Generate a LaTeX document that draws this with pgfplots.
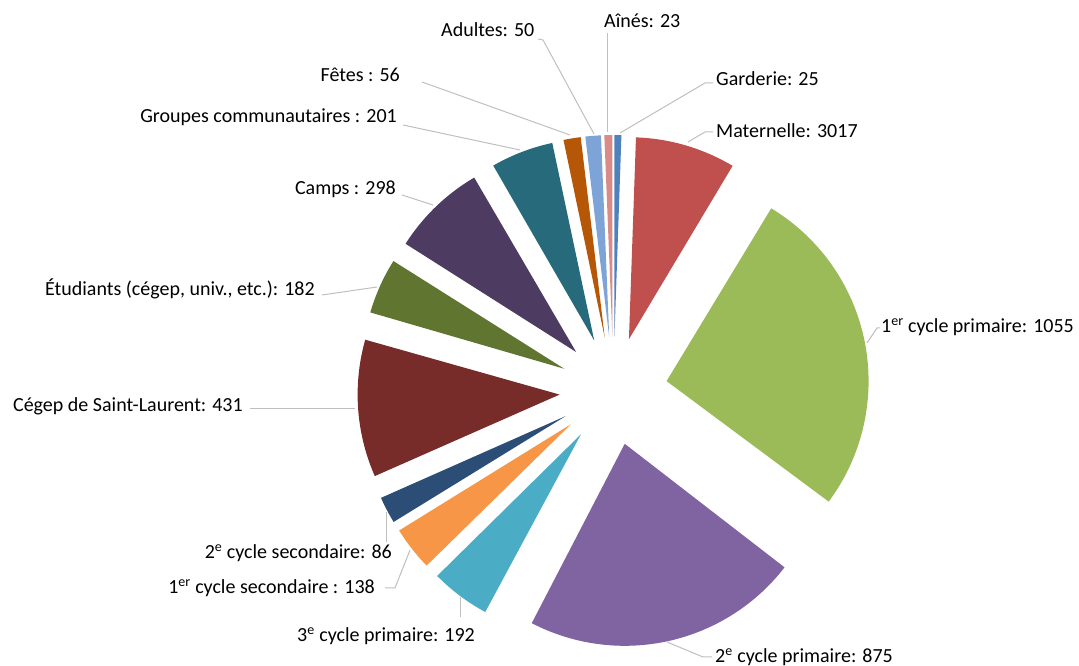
\documentclass[border=0pt]{standalone}
\usepackage{pgfplots}
\pgfplotsset{compat=1.18}
\usepackage{fontspec}
\setmainfont{Carlito}
\definecolor{cGard}{HTML}{4F81BD}
\definecolor{cMat}{HTML}{C0504D}
\definecolor{cPrimA}{HTML}{9BBB59}
\definecolor{cPrimB}{HTML}{8064A2}
\definecolor{cPrimC}{HTML}{4BACC6}
\definecolor{cSecA}{HTML}{F79646}
\definecolor{cSecB}{HTML}{2C4D75}
\definecolor{cCeg}{HTML}{772C2A}
\definecolor{cEtu}{HTML}{5F7530}
\definecolor{cCamps}{HTML}{4D3B62}
\definecolor{cGrp}{HTML}{276A7C}
\definecolor{cFete}{HTML}{B65708}
\definecolor{cAdu}{HTML}{7EA3D6}
\definecolor{cAin}{HTML}{D98B88}
\definecolor{cLead}{HTML}{BFBFBF}
% slice: start angle, end angle (degrees, counter-clockwise), colour
% pie centre (613.5,275), radius 202, explosion 54 (picture units)
\newcommand{\slice}[3]{%
  \addplot[fill=#3, draw=none, domain=#1-0.01:#2, samples=90, variable=\t]
   ({613.5 + 54*cos((#1+#2)/2) + 202*(\t>(#1-0.005))*cos(\t)},
    {275 + 54*sin((#1+#2)/2) + 202*(\t>(#1-0.005))*sin(\t)});
}
\begin{document}
\begin{tikzpicture}
\begin{axis}[width=1079pt, height=666pt, scale only axis,
  xmin=0, xmax=1079, ymin=0, ymax=666, hide axis, clip=false]
\slice{88}{90}{cGard}        % Garderie: 25
\slice{58.8}{88}{cMat}       % Maternelle: 3017
\slice{-37.7}{58.8}{cPrimA}  % 1er cycle primaire: 1055
\slice{-118.3}{-37.7}{cPrimB}% 2e cycle primaire: 875
\slice{-135.6}{-118.3}{cPrimC}% 3e cycle primaire: 192
\slice{-148.4}{-135.6}{cSecA}% 1er cycle secondaire: 138
\slice{-156.2}{-148.4}{cSecB}% 2e cycle secondaire: 86
\slice{163.8}{203.8}{cCeg}   % Cegep: 431
\slice{147.6}{163.8}{cEtu}   % Etudiants: 182
\slice{120}{147.6}{cCamps}   % Camps: 298
\slice{101.8}{120}{cGrp}     % Groupes: 201
\slice{96.8}{101.8}{cFete}   % Fetes: 56
\slice{92.3}{96.8}{cAdu}     % Adultes: 50
\slice{90}{92.3}{cAin}       % Aines: 23
% leader lines
\begin{scope}[cLead, line width=1pt]
\draw (axis cs:607,633) -- (axis cs:607,534);
\draw (axis cs:620,533) -- (axis cs:705,583) -- (axis cs:713,583);
\draw (axis cs:688,524) -- (axis cs:705,534) -- (axis cs:713,534);
\draw (axis cs:867,323) -- (axis cs:877,338) -- (axis cs:880,338);
\draw (axis cs:667,24) -- (axis cs:703,9) -- (axis cs:712,9);
\draw (axis cs:460,69) -- (axis cs:460,49);
\draw (axis cs:410,116) -- (axis cs:395,78) -- (axis cs:385,78);
\draw (axis cs:386,154) -- (axis cs:386,124);
\draw (axis cs:250,257) -- (axis cs:355,257);
\draw (axis cs:322,371) -- (axis cs:377,379);
\draw (axis cs:402,471) -- (axis cs:433,461);
\draw (axis cs:403,541) -- (axis cs:520,516);
\draw (axis cs:422,584) -- (axis cs:570,531);
\draw (axis cs:538,627) -- (axis cs:543,626) -- (axis cs:594,532);
\end{scope}
% labels
\begin{scope}[every node/.style={inner sep=0pt, font=\fontsize{20}{24}\selectfont}]
\node[anchor=base west] at (axis cs:604,638) {Aînés: 23};
\node[anchor=base west] at (axis cs:716,580) {Garderie: 25};
\node[anchor=base west] at (axis cs:716,528) {Maternelle: 3017};
\node[anchor=base west] at (axis cs:881,333) {1\textsuperscript{er} cycle primaire: 1055};
\node[anchor=base west] at (axis cs:715,3) {2\textsuperscript{e} cycle primaire: 875};
\node[anchor=base east] at (axis cs:475,24) {3\textsuperscript{e} cycle primaire: 192};
\node[anchor=base east] at (axis cs:375,72) {1\textsuperscript{er} cycle secondaire : 138};
\node[anchor=base east] at (axis cs:392,107) {2\textsuperscript{e} cycle secondaire: 86};
\node[anchor=base east] at (axis cs:243,254) {Cégep de Saint-Laurent: 431};
\node[anchor=base east] at (axis cs:315,370) {Étudiants (cégep, univ., etc.): 182};
\node[anchor=base east] at (axis cs:396,471) {Camps : 298};
\node[anchor=base east] at (axis cs:397,543) {Groupes communautaires : 201};
\node[anchor=base east] at (axis cs:400,584) {Fêtes : 56};
\node[anchor=base west] at (axis cs:441,629) {Adultes: 50};
\end{scope}
\end{axis}
\pgfresetboundingbox
\path[use as bounding box] (current axis.south west) rectangle (current axis.north east);
\end{tikzpicture}
\end{document}
